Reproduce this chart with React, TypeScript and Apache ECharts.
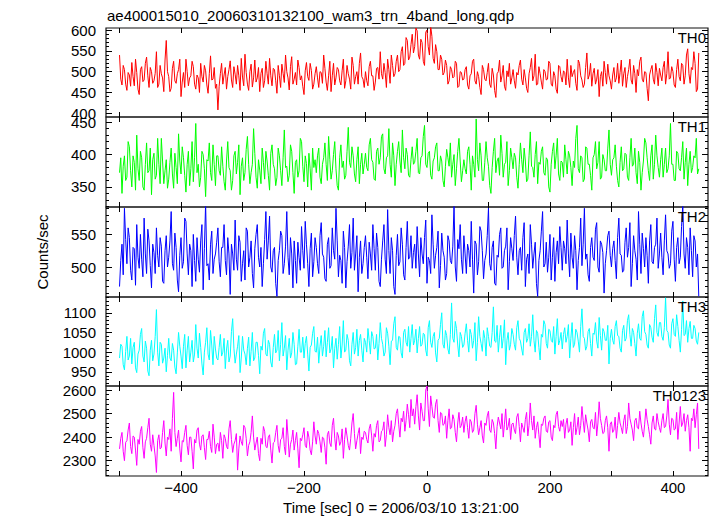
import React, { useEffect, useRef } from "react";
import * as echarts from "echarts";

// Time bins: t = T_START + i * BIN (seconds)
const T_START = -500;
const BIN = 2;

const TH0 = [
  540,482, 468,515, 505,470, 455,498, 492,465, 522,488, 466,530, 498,458, 445,505, 512,476, 480,520, 535,490, 462,510, 500,472, 478,496, 548,462, 470,515, 495,485, 452,528, 575,500,
  488,452, 460,508, 525,478, 472,495, 505,530, 440,475, 498,462, 530,500, 466,485, 490,525, 512,470, 458,492, 485,450, 520,488, 475,515, 502,468, 448,495, 538,480, 482,510, 460,470,
  408,465, 495,520, 470,492, 510,458, 488,505, 526,480, 462,512, 494,470, 515,490, 455,532, 487,466, 542,498, 470,455, 500,518, 463,485, 528,475, 485,510, 452,496, 508,462, 478,525,
  495,470, 532,490, 466,508, 505,478, 448,515, 490,462, 518,496, 474,540, 500,485, 456,512, 536,470, 482,498, 468,528, 510,480, 490,465, 445,502, 522,488, 479,520, 503,458, 470,495,
  512,485, 462,500, 498,472, 540,508, 475,455, 490,525, 452,490, 520,468, 485,510, 505,478, 468,502, 530,460, 478,515, 495,482, 458,535, 515,470, 488,500, 470,520, 545,488, 482,462,
  500,478, 466,512, 525,490, 490,455, 475,508, 510,482, 548,495, 482,520, 498,462, 530,505, 472,540, 515,488, 495,525, 540,500, 505,548, 560,515, 520,582, 575,528, 535,565, 590,545,
  560,605, 598,540, 530,578, 570,525, 515,595, 600,560, 540,610, 585,532, 520,565, 548,505, 505,540, 530,492, 498,528, 515,470, 478,512, 505,485, 488,525, 520,462, 465,500, 498,480,
  482,505, 512,468, 458,490, 495,525, 530,478, 470,500, 488,462, 445,515, 505,482, 478,498, 520,470, 462,508, 492,455, 438,495, 500,528, 475,490, 515,465, 455,502, 488,520, 470,485,
  505,478, 460,498, 492,515, 528,482, 468,505, 485,460, 450,495, 510,532, 478,490, 542,468, 470,512, 495,475, 458,505, 500,480, 482,525, 520,470, 465,500, 490,458, 448,515, 512,488,
  475,502, 498,468, 530,485, 462,515, 488,498, 505,472, 455,528, 520,490, 480,462, 470,510, 545,482, 492,520, 465,495, 508,470, 482,505, 440,488, 500,465, 525,498, 470,518, 490,478,
  458,492, 510,475, 485,520, 472,498, 528,465, 495,510, 462,488, 505,530, 480,470, 515,495, 450,505, 490,525, 535,482, 475,500, 498,460, 430,492, 505,515, 482,470, 520,498, 466,508,
  492,478, 510,525, 470,495, 548,482, 485,512, 500,468, 462,505, 530,488, 478,520, 515,470, 490,540, 555,495, 472,510, 505,548, 520,452, 458,545,
];

const TH1 = [
  372,395, 340,382, 398,360, 365,420, 412,375, 350,398, 388,345, 430,378, 360,405, 395,350, 345,385, 418,372, 375,410, 338,392, 402,362, 368,425, 385,355, 425,390, 355,375, 392,348,
  362,388, 410,370, 348,402, 380,355, 432,390, 370,412, 395,368, 342,385, 405,352, 378,420, 358,395, 448,372, 385,350, 365,405, 400,378, 335,392, 390,418, 372,360, 415,385, 352,398,
  398,375, 368,412, 382,358, 345,390, 420,380, 375,345, 360,398, 405,370, 388,415, 338,382, 395,360, 372,408, 428,385, 355,372, 385,440, 402,365, 348,392, 376,355, 410,388, 362,405,
  390,368, 345,402, 415,385, 378,352, 365,410, 398,375, 352,395, 438,380, 382,358, 368,415, 405,372, 340,388, 392,365, 375,425, 420,382, 358,398, 386,350, 402,378, 345,410, 380,392,
  372,398, 410,365, 355,385, 395,418, 385,360, 428,392, 362,375, 400,420, 378,352, 345,395, 415,380, 390,362, 368,405, 442,388, 380,412, 398,370, 358,392, 412,355, 385,402, 370,385,
  402,380, 375,415, 425,392, 388,362, 360,405, 410,385, 395,428, 432,378, 370,395, 398,440, 385,365, 418,398, 352,385, 405,420, 390,372, 438,395, 378,410, 400,368, 365,392, 412,385,
  388,405, 425,372, 370,395, 398,428, 445,385, 380,402, 405,368, 362,390, 395,412, 418,375, 375,398, 390,360, 350,382, 408,395, 382,418, 365,385, 400,352, 378,405, 425,390, 358,375,
  392,378, 370,405, 412,385, 345,398, 385,365, 455,392, 375,418, 398,360, 360,388, 420,395, 382,352, 340,380, 405,425, 372,390, 395,368, 430,402, 365,385, 388,420, 352,375, 410,395,
  378,402, 395,365, 348,385, 418,392, 372,410, 390,358, 362,398, 435,382, 380,365, 400,420, 355,388, 385,405, 412,372, 368,395, 392,350, 342,385, 405,418, 378,398, 425,370, 360,390,
  388,365, 415,392, 370,405, 398,380, 352,390, 380,425, 445,378, 372,398, 395,358, 362,412, 410,385, 385,368, 345,395, 400,420, 378,388, 420,362, 365,400, 392,375, 375,410, 438,385,
  368,392, 395,415, 382,360, 350,388, 412,375, 378,402, 400,365, 360,395, 425,382, 385,410, 372,355, 405,388, 345,372, 390,425, 418,395, 375,360, 398,415, 362,385, 430,398, 380,365,
  392,410, 365,385, 410,372, 378,398, 448,385, 385,360, 360,405, 402,378, 375,395, 420,362, 388,410, 352,385, 405,372, 380,398, 395,425, 370,378,
];

const TH2 = [
  470,510, 535,488, 590,542, 505,560, 545,495, 480,530, 528,472, 565,515, 498,550, 512,485, 575,520, 490,558, 540,502, 468,535, 522,490, 560,518, 500,545, 532,478, 475,525, 548,500,
  515,540, 585,505, 495,552, 530,480, 462,518, 545,498, 508,575, 570,520, 488,535, 525,470, 550,510, 478,545, 512,492, 540,565, 465,528, 598,502, 505,480, 535,555, 490,512, 520,538,
  560,508, 485,530, 530,565, 510,488, 545,520, 458,535, 520,495, 572,512, 495,548, 538,478, 505,525, 480,560, 555,500, 515,540, 490,468, 528,550, 565,515, 500,530, 470,505, 542,585,
  512,540, 578,500, 492,525, 530,475, 455,510, 525,555, 548,490, 505,532, 585,515, 488,545, 520,468, 540,510, 475,538, 515,495, 562,525, 498,570, 535,505, 470,528, 552,485, 508,545,
  530,505, 490,548, 568,520, 515,482, 478,535, 545,498, 502,560, 525,512, 590,540, 485,518, 510,475, 555,530, 468,508, 532,565, 498,522, 575,495, 520,548, 462,515, 540,490, 505,530,
  548,515, 482,538, 520,495, 565,528, 495,552, 530,478, 470,512, 540,565, 512,490, 588,525, 490,545, 525,470, 458,518, 550,502, 508,560, 535,488, 480,530, 570,512, 515,548, 498,522,
  535,498, 562,520, 485,545, 520,505, 545,572, 475,515, 510,490, 580,535, 498,518, 530,555, 468,502, 552,525, 515,480, 490,548, 540,510, 505,532, 595,500, 478,542, 528,565, 512,490,
  548,520, 490,535, 525,500, 570,512, 460,540, 535,488, 508,562, 555,525, 482,510, 520,548, 590,505, 495,530, 540,475, 472,518, 515,550, 560,498, 500,525, 532,560, 465,508, 545,528,
  510,548, 578,515, 488,525, 530,495, 545,568, 470,512, 520,490, 565,535, 498,520, 538,475, 455,510, 525,555, 585,500, 505,538, 492,515, 550,480, 515,545, 478,522, 540,505, 562,530,
  495,540, 528,505, 572,520, 485,552, 515,498, 548,525, 465,510, 530,575, 502,535, 590,512, 520,488, 478,530, 545,515, 510,558, 568,500, 492,540, 535,522, 460,505, 525,548, 555,518,
  500,528, 540,510, 482,545, 575,520, 518,492, 495,538, 560,515, 530,568, 470,505, 548,525, 512,480, 585,535, 490,552, 528,500, 545,518, 475,540, 565,508, 505,530, 535,575, 498,520,
  552,515, 488,540, 580,525, 520,498, 505,555, 570,512, 478,530, 545,505, 515,562, 595,520, 498,545, 530,488, 560,525, 485,548, 540,500, 520,455,
];

const TH3 = [
  985,1020, 1015,968, 955,1002, 1040,980, 990,1035, 970,1012, 1025,960, 948,995, 1005,1045, 1060,990, 975,1028, 1010,952, 940,1005, 1030,978, 995,1040, 1108,1000, 965,1025, 1020,972, 985,1010, 950,992,
  1035,985, 978,1022, 1005,962, 945,998, 1050,1015, 990,958, 1015,1045, 960,1005, 1040,975, 1000,1030, 975,995, 1070,1010, 985,1048, 1012,970, 942,1000, 1025,1062, 995,980, 1055,1018, 968,1040, 1008,985,
  980,1012, 1045,990, 1000,1035, 958,1008, 1030,975, 990,1052, 1085,1010, 972,995, 1015,1042, 948,985, 1040,1005, 995,968, 1010,1038, 965,1002, 1050,978, 985,1025, 1025,992, 945,1015, 1005,1048, 1060,995,
  990,1030, 1020,975, 962,1012, 1045,998, 1005,1055, 978,1020, 1075,990, 1010,1042, 955,1005, 1035,985, 998,1050, 1020,968, 970,1015, 1058,1000, 1000,1038, 985,1022, 1040,995, 952,1012, 1018,1048, 1065,1002,
  1000,1038, 972,1015, 1042,990, 1015,1055, 988,1025, 1062,998, 1008,1040, 960,1010, 1035,982, 1020,1065, 985,1018, 1080,1000, 1005,1045, 1030,978, 965,1020, 1050,995, 1012,1058, 990,1030, 1045,1005, 975,1035,
  1025,1000, 1060,1030, 995,1052, 1040,1008, 1010,1045, 980,1022, 1075,1035, 1020,990, 1000,1062, 1048,1015, 968,1028, 1030,1072, 1090,1012, 1005,1040, 1038,998, 985,1050, 1058,1025, 1015,1065, 1000,1035, 1070,1018,
  1030,1058, 998,1035, 1065,1015, 1020,1048, 1045,1005, 990,1062, 1080,1025, 1012,1040, 1050,998, 975,1030, 1035,1070, 1100,1020, 1010,1055, 1042,1008, 995,1045, 1125,1035, 1025,1078, 1060,1018, 988,1050, 1040,1012,
  1018,1048, 1072,1030, 1000,1058, 1045,1010, 1030,1075, 978,1025, 1090,1040, 1022,1002, 1055,1035, 990,1062, 1040,1015, 1012,1050, 1115,1028, 1025,1068, 1000,1038, 1068,1010, 1035,1082, 968,1030, 1050,1005, 1020,1060,
  1045,1020, 1005,1062, 1080,1035, 1028,1008, 992,1050, 1060,1025, 1035,1072, 1015,1040, 1095,1030, 1000,1055, 1048,1012, 980,1045, 1038,1080, 1070,1022, 1010,1058, 1055,1030, 1025,1065, 995,1040, 1085,1018, 1030,1050,
  1008,1045, 1062,1025, 1040,1070, 985,1035, 1075,1012, 1020,1058, 1050,1028, 1000,1065, 1110,1040, 1035,1005, 1015,1052, 1060,1022, 990,1048, 1045,1075, 1028,1010, 1088,1042, 1005,1060, 1052,1030, 1030,1068, 970,1035,
  1058,1030, 1020,1065, 1080,1042, 1040,1010, 1000,1055, 1068,1028, 1035,1080, 1095,1045, 1015,1060, 1050,1022, 990,1048, 1072,1035, 1030,1090, 1105,1052, 1045,1018, 1010,1070, 1062,1038, 1025,1085, 1120,1050, 1040,1075,
  1075,1040, 1030,1062, 1138,1055, 1050,1018, 1010,1072, 1085,1045, 1040,1095, 1065,1030, 1000,1058, 1130,1042, 1045,1080, 1025,1060, 1078,1035, 1035,1068, 1060,1028, 1020,1050,
];

const TH0123 = [
  2350,2395, 2420,2340, 2300,2378, 2385,2430, 2460,2360, 2330,2405, 2400,2345, 2280,2390, 2370,2425, 2445,2355, 2310,2380, 2395,2440, 2480,2370, 2340,2410, 2365,2320, 2250,2385, 2410,2350, 2355,2420, 2470,2375, 2320,2400,
  2390,2435, 2340,2480, 2590,2420, 2360,2395, 2430,2350, 2295,2385, 2380,2420, 2450,2365, 2325,2400, 2400,2340, 2265,2390, 2375,2430, 2440,2370, 2345,2405, 2410,2355, 2305,2390, 2390,2425, 2360,2335, 2455,2400, 2330,2370,
  2375,2340, 2420,2385, 2310,2410, 2395,2360, 2350,2435, 2470,2390, 2335,2370, 2385,2415, 2260,2350, 2405,2380, 2365,2450, 2440,2395, 2320,2365, 2380,2420, 2490,2400, 2345,2375, 2400,2330, 2300,2395, 2370,2445, 2425,2360,
  2355,2400, 2410,2345, 2290,2375, 2380,2420, 2450,2365, 2335,2390, 2395,2440, 2360,2325, 2475,2405, 2315,2370, 2390,2430, 2345,2385, 2420,2350, 2270,2395, 2385,2410, 2440,2365, 2355,2425, 2400,2345, 2325,2380, 2465,2405,
  2370,2430, 2415,2380, 2335,2400, 2395,2355, 2285,2410, 2425,2375, 2360,2450, 2480,2395, 2345,2420, 2405,2365, 2380,2435, 2310,2390, 2440,2405, 2365,2345, 2395,2460, 2500,2415, 2350,2385, 2415,2440, 2330,2400, 2390,2425,
  2420,2390, 2375,2435, 2455,2405, 2340,2415, 2400,2450, 2470,2380, 2385,2425, 2430,2465, 2360,2410, 2495,2440, 2410,2470, 2380,2425, 2450,2500, 2520,2455, 2400,2480, 2465,2510, 2425,2470, 2540,2495, 2440,2560, 2490,2520,
  2455,2530, 2580,2490, 2430,2545, 2510,2470, 2470,2600, 2617,2520, 2445,2575, 2530,2485, 2480,2540, 2560,2470, 2420,2505, 2500,2450, 2455,2490, 2395,2470, 2520,2435, 2440,2495, 2475,2420, 2380,2460, 2505,2440, 2450,2485,
  2420,2465, 2490,2440, 2395,2475, 2465,2420, 2430,2500, 2535,2455, 2410,2440, 2470,2405, 2375,2460, 2450,2490, 2510,2430, 2420,2475, 2460,2415, 2350,2445, 2485,2460, 2435,2500, 2400,2455, 2520,2430, 2445,2480, 2390,2455,
  2460,2430, 2415,2485, 2500,2445, 2380,2460, 2440,2420, 2475,2505, 2405,2450, 2545,2470, 2430,2490, 2395,2440, 2465,2410, 2355,2455, 2450,2480, 2490,2425, 2420,2465, 2470,2400, 2385,2450, 2440,2495, 2510,2445, 2425,2470,
  2445,2475, 2395,2455, 2480,2420, 2430,2465, 2365,2440, 2500,2410, 2440,2485, 2410,2450, 2530,2470, 2420,2495, 2460,2430, 2380,2465, 2475,2440, 2435,2505, 2405,2460, 2550,2480, 2450,2415, 2420,2470, 2490,2440, 2340,2455,
  2465,2420, 2430,2485, 2395,2450, 2505,2460, 2440,2415, 2470,2495, 2415,2445, 2545,2480, 2455,2430, 2385,2470, 2480,2440, 2435,2510, 2460,2425, 2400,2455, 2520,2475, 2445,2410, 2370,2460, 2490,2435, 2430,2500, 2465,2440,
  2420,2470, 2500,2440, 2445,2490, 2560,2455, 2410,2480, 2475,2430, 2435,2505, 2390,2460, 2530,2445, 2460,2500, 2425,2470, 2495,2440, 2340,2480, 2470,2520, 2440,2495, 2545,2350,
];

const SERIES_NAMES = ["TH0", "TH1", "TH2", "TH3", "TH0123"];
const SERIES_DATA = [TH0, TH1, TH2, TH3, TH0123];
const COLORS = ["#ff0000", "#00ff00", "#0000ff", "#00ffff", "#ff00ff"];

const Y_MIN = [391, 319, 454, 914, 2235];
const Y_MAX = [605, 458, 592, 1140, 2617];
const Y_MAJOR = [
  [400, 450, 500, 550, 600],
  [350, 400, 450],
  [500, 550],
  [950, 1000, 1050, 1100],
  [2300, 2400, 2500, 2600],
];
const Y_MINOR_STEP = [10, 10, 10, 10, 20];

const X_MIN = -522;
const X_MAX = 457;
const X_TICKS = [-500, -400, -300, -200, -100, 0, 100, 200, 300, 400];
const X_LABELS = [-400, -200, 0, 200, 400];

const TITLE = "ae400015010_20060310132100_wam3_trn_4band_long.qdp";
const X_TITLE = "Time [sec] 0 = 2006/03/10 13:21:00";
const Y_TITLE = "Counts/sec";

const FONT = "'Liberation Sans', Arial, Helvetica, sans-serif";

export default function App() {
  const ref = useRef<HTMLDivElement>(null);

  useEffect(() => {
    if (!ref.current) return;
    const chart = echarts.init(ref.current, undefined, { renderer: "svg" });

    const tops = [28, 117, 207, 297, 386];
    const heights = [89, 90, 90, 89, 90];
    const left = 106;
    const right = 9;

    const grids: any[] = [];
    const xAxes: any[] = [];
    const yAxes: any[] = [];
    const series: any[] = [];
    const graphics: any[] = [];

    const tickStyle = { color: "#000", width: 1 };
    const fmt = (v: number) => (v < 0 ? "\u2212" + Math.abs(v) : String(v));

    SERIES_DATA.forEach((vals, i) => {
      grids.push({
        left,
        right,
        top: tops[i],
        height: heights[i],
        show: true,
        borderColor: "#111",
        borderWidth: 1.2,
        backgroundColor: "transparent",
      });

      const minorVals: number[] = [];
      const start = Math.ceil(Y_MIN[i] / Y_MINOR_STEP[i]) * Y_MINOR_STEP[i];
      for (let v = start; v <= Y_MAX[i]; v += Y_MINOR_STEP[i]) minorVals.push(v);

      const xBase = (pos: string, labels: boolean) => ({
        gridIndex: i,
        type: "value",
        min: X_MIN,
        max: X_MAX,
        position: pos,
        axisLine: { show: false, onZero: false },
        axisTick: { show: true, inside: true, length: 5, customValues: X_TICKS, lineStyle: tickStyle },
        axisLabel: {
          show: labels,
          customValues: X_LABELS,
          formatter: fmt,
          margin: 4,
          fontSize: 15,
          color: "#000",
          fontFamily: FONT,
        },
        splitLine: { show: false },
      });
      const xBottomIndex = xAxes.length;
      xAxes.push(xBase("bottom", i === SERIES_DATA.length - 1));
      xAxes.push(xBase("top", false));

      const yBase = (pos: string, ticks: number[], len: number, labels: boolean) => ({
        gridIndex: i,
        type: "value",
        min: Y_MIN[i],
        max: Y_MAX[i],
        position: pos,
        axisLine: { show: false, onZero: false },
        axisTick: { show: true, inside: true, length: len, customValues: ticks, lineStyle: tickStyle },
        axisLabel: {
          show: labels,
          customValues: Y_MAJOR[i],
          formatter: (v: number) => String(v),
          margin: 10,
          fontSize: 15,
          color: "#000",
          fontFamily: FONT,
        },
        splitLine: { show: false },
      });
      const yLeftIndex = yAxes.length;
      yAxes.push(yBase("left", Y_MAJOR[i], 6, true));
      yAxes.push(yBase("left", minorVals, 3, false));
      yAxes.push(yBase("right", Y_MAJOR[i], 6, false));
      yAxes.push(yBase("right", minorVals, 3, false));

      series.push({
        type: "line",
        name: SERIES_NAMES[i],
        xAxisIndex: xBottomIndex,
        yAxisIndex: yLeftIndex,
        data: vals.map((v, k) => [T_START + k * BIN, v]),
        showSymbol: false,
        symbol: "none",
        clip: true,
        lineStyle: { color: COLORS[i], width: 1 },
        itemStyle: { color: COLORS[i] },
        silent: true,
      });

      graphics.push({
        type: "text",
        right: 717 - 706,
        top: tops[i] + 2,
        style: { text: SERIES_NAMES[i], font: `15px ${FONT}`, fill: "#000" },
        z: 100,
      });
    });

    graphics.push({
      type: "text",
      left: 107,
      top: 8,
      style: { text: TITLE, font: `15px ${FONT}`, fill: "#000" },
    });
    graphics.push({
      type: "text",
      x: 401,
      y: 507,
      style: {
        text: X_TITLE,
        font: `15px ${FONT}`,
        fill: "#000",
        textAlign: "center",
        textVerticalAlign: "middle",
      },
    });
    graphics.push({
      type: "text",
      x: 42,
      y: 252,
      rotation: Math.PI / 2,
      style: {
        text: Y_TITLE,
        font: `15px ${FONT}`,
        fill: "#000",
        textAlign: "center",
        textVerticalAlign: "middle",
      },
    });

    chart.setOption({
      animation: false,
      backgroundColor: "#fff",
      grid: grids,
      xAxis: xAxes,
      yAxis: yAxes,
      series,
      graphic: graphics,
    });

    return () => chart.dispose();
  }, []);

  return (
    <div
      ref={ref}
      style={{ position: "fixed", left: 0, top: 0, width: 717, height: 516 }}
    />
  );
}
